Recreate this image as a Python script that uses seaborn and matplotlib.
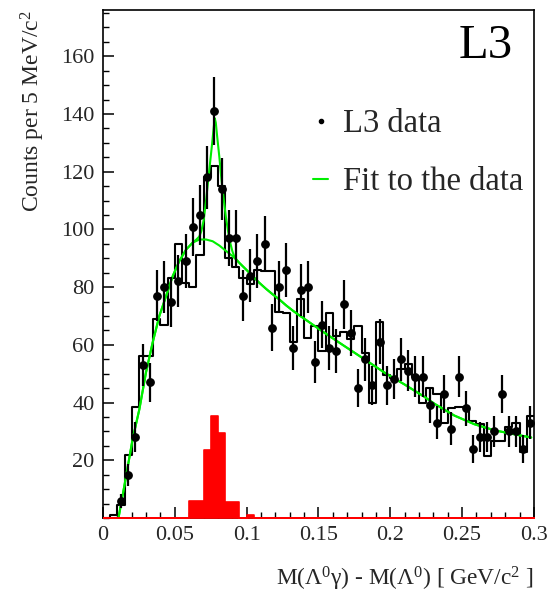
import numpy as np
import pandas as pd
import matplotlib
matplotlib.use("Agg")
import matplotlib.pyplot as plt
import seaborn as sns
from matplotlib.lines import Line2D
from matplotlib.ticker import MultipleLocator, FixedLocator, FixedFormatter

# ---------------- data ----------------
bin_width = 0.005
n_bins = 60

data_counts = [0, 0, 6, 15, 28, 53, 47, 77, 80, 75,
               82, 89, 101, 105, 118, 141, 114, 97, 97, 77,
               84, 89, 95, 66, 80, 86, 59, 79, 80, 54,
               67, 59, 58, 74, 64, 45, 55, 46, 61, 46,
               48, 55, 51, 49, 49, 39, 33, 43, 31, 49,
               38, 24, 28, 28, 30, 43, 30, 30, 24, 33]

mc_counts = [0, 1, 4.4, 22, 38.5, 56, 56, 69, 67, 83,
             95, 81.5, 80, 91, 118, 122, 115, 90, 87, 83,
             81, 86, 85.5, 85.5, 71.5, 71, 61, 76, 62.5, 66.5,
             58, 71, 63, 64.5, 62, 66.5, 57, 40, 68, 49.5,
             48.5, 51.5, 53.5, 49, 40, 45, 43, 33, 38, 38.5,
             38.5, 33.5, 32.5, 21.5, 26.7, 26.7, 31.5, 33, 22.7, 35.3]

signal_counts = [0, 0, 0, 0, 0, 0, 0, 0, 0, 0,
                 0, 0, 6, 6, 23.5, 35.3, 29.6, 5.4, 5.4, 0,
                 1, 0, 0, 0, 0, 0, 0, 0, 0, 0,
                 0, 0, 0, 0, 0, 0, 0, 0, 0, 0,
                 0, 0, 0, 0, 0, 0, 0, 0, 0, 0,
                 0, 0, 0, 0, 0, 0, 0, 0, 0, 0]

bkg_x = [0.0109, 0.0148, 0.0206, 0.0253, 0.0299, 0.0345, 0.0392, 0.0439,
         0.0485, 0.0531, 0.0578, 0.0624, 0.0671, 0.0717, 0.0763, 0.0810,
         0.0857, 0.0903, 0.0949, 0.0996, 0.1042, 0.1088, 0.1135, 0.1181,
         0.1228, 0.1274, 0.1320, 0.1367, 0.1414, 0.1460, 0.1541, 0.1680,
         0.1820, 0.1959, 0.2098, 0.2237, 0.2307, 0.2446, 0.2585, 0.2724,
         0.2864, 0.2981]
bkg_y = [0.4, 11, 27.3, 37.7, 50.4, 60.7, 70, 76.9,
         83.8, 89, 93, 95.4, 96.5, 96.5, 95.9, 94.4,
         92.5, 90.7, 88.4, 86.1, 83.8, 81.5, 79.4, 77.5,
         75.7, 73.7, 71.9, 70.2, 68.6, 67, 64.2, 59.6,
         55, 50.4, 46.3, 42, 39.6, 35.5, 32.5, 30.4,
         29, 27.9]

peak_x = [0.0650, 0.0670, 0.0685, 0.0700, 0.0715, 0.0730, 0.0745, 0.0760,
          0.0770, 0.0778, 0.0785, 0.0795, 0.0810, 0.0825, 0.0840, 0.0855,
          0.0870, 0.0885, 0.0900, 0.0915]
peak_y = [96.5, 97.5, 99.5, 103, 109, 116, 123, 130,
          135, 138.5, 137, 132, 125, 117, 110.5, 104.5,
          99.5, 95.5, 92.5, 90.4]

x_tick_values = [0, 0.05, 0.1, 0.15, 0.2, 0.25, 0.3]
x_tick_labels = ["0", "0.05", "0.1", "0.15", "0.2", "0.25", "0.3"]
y_tick_values = [20, 40, 60, 80, 100, 120, 140, 160]
y_tick_labels = ["20", "40", "60", "80", "100", "120", "140", "160"]

# ---------------- derived tables ----------------
edges = np.arange(n_bins + 1) * bin_width
centers = (edges[:-1] + edges[1:]) / 2
hist_df = pd.DataFrame({"x": centers, "data": data_counts,
                        "mc": mc_counts, "signal": signal_counts})

bx, by = np.array(bkg_x), np.array(bkg_y)
outside = (bx < peak_x[0]) | (bx > peak_x[-1])
fit_x = np.concatenate([bx[outside], peak_x])
fit_y = np.concatenate([by[outside], peak_y])
order = np.argsort(fit_x)
fit_df = pd.DataFrame({"x": fit_x[order], "y": fit_y[order]})
bkg_df = pd.DataFrame({"x": bkg_x, "y": bkg_y})

# ---------------- style ----------------
sns.set_theme(style="ticks")
plt.rcParams["font.family"] = ["Liberation Serif", "DejaVu Serif"]
plt.rcParams["mathtext.fontset"] = "custom"
plt.rcParams["mathtext.rm"] = "Liberation Serif"
plt.rcParams["mathtext.it"] = "Liberation Serif:italic"
plt.rcParams["mathtext.bf"] = "Liberation Serif:bold"

GREEN = "#00ee00"

fig = plt.figure(figsize=(5.51, 5.92), dpi=100)
ax = fig.add_axes([0.187, 0.125, 0.782, 0.858])

# signal histogram (red, filled)
sns.histplot(data=hist_df, x="x", weights="signal", binwidth=bin_width,
             binrange=(0, n_bins * bin_width), element="step",
             fill=True, color="#ff0000", alpha=1.0, linewidth=1.2, ax=ax,
             zorder=3)
# reference histogram (black step)
sns.histplot(data=hist_df, x="x", weights="mc", binwidth=bin_width,
             binrange=(0, n_bins * bin_width), element="step",
             fill=False, color="black", linewidth=1.5, ax=ax)

# fit curves
sns.lineplot(data=bkg_df, x="x", y="y", color=GREEN, lw=1.5, ax=ax,
             sort=False, estimator=None)
sns.lineplot(data=fit_df, x="x", y="y", color=GREEN, lw=1.5, ax=ax,
             sort=False, estimator=None)

# data points with Poisson errors
pts = hist_df[hist_df["data"] > 0]
ax.errorbar(pts["x"], pts["data"], yerr=np.sqrt(pts["data"]), fmt="o",
            color="black", ms=5.3, elinewidth=1.6, capsize=0, zorder=5)

# axes
ax.set_xlim(0, 0.3)
ax.set_ylim(0, 176)
ax.xaxis.set_major_locator(FixedLocator(x_tick_values))
ax.xaxis.set_major_formatter(FixedFormatter(x_tick_labels))
ax.xaxis.set_minor_locator(MultipleLocator(0.01))
ax.yaxis.set_major_locator(FixedLocator(y_tick_values))
ax.yaxis.set_major_formatter(FixedFormatter(y_tick_labels))
ax.yaxis.set_minor_locator(MultipleLocator(5))
ax.tick_params(which="both", direction="in", top=False, right=False,
               labelsize=16, color="black")
ax.tick_params(which="major", length=8, width=1.1, pad=6)
ax.tick_params(which="minor", length=4, width=1.0)
for s in ax.spines.values():
    s.set_visible(True)
    s.set_linewidth(1.2)
    s.set_color("black")
    s.set_zorder(2.5)

ax.set_xlabel(r"M(Λ$^{0}$γ) - M(Λ$^{0}$) [ GeV/c$^{2}$ ]", fontsize=16.8, loc="right")
ax.xaxis.set_label_coords(1.0, -0.093)
ax.set_ylabel(r"Counts per 5 MeV/c$^{2}$", fontsize=17, loc="top")
ax.yaxis.set_label_coords(-0.13, 1.0)

ax.text(0.952, 0.972, "L3", transform=ax.transAxes, ha="right", va="top",
        fontsize=35, color="black")

handles = [Line2D([], [], marker="o", ls="", color="black", ms=3),
           Line2D([], [], color=GREEN, lw=1.5)]
ax.legend(handles, ["L3 data", "Fit to the data"], loc="upper left",
          bbox_to_anchor=(0.42, 0.864), frameon=False, fontsize=23.5,
          handlelength=0.45, handletextpad=0.45, labelspacing=0.84)

fig.savefig("out.png", dpi=100)
